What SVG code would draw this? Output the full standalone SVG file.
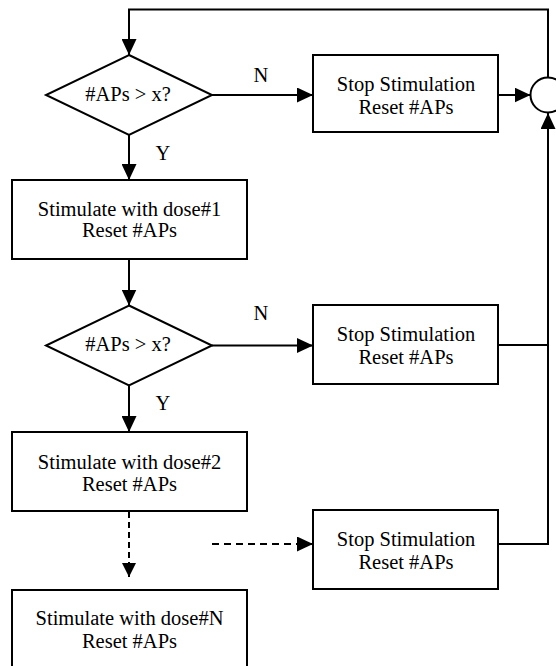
<svg xmlns="http://www.w3.org/2000/svg" width="556" height="666" viewBox="0 0 556 666">
<defs>
<style>
.box{fill:#fff;stroke:#000;stroke-width:2}
.ln{fill:none;stroke:#000;stroke-width:2}
.dash{fill:none;stroke:#000;stroke-width:2;stroke-dasharray:7,5}
text{font-family:'Liberation Serif','Times New Roman',serif;font-size:20.5px;fill:#000;text-anchor:middle}
</style>
<marker id="ah" markerUnits="userSpaceOnUse" markerWidth="16" markerHeight="15" refX="16" refY="7.5" orient="auto">
<path d="M0,0 L16,7.5 L0,15 Z" fill="#000"/>
</marker>
<marker id="ahs" markerUnits="userSpaceOnUse" markerWidth="14" markerHeight="14" refX="14" refY="7" orient="auto">
<path d="M0,0 L14,7 L0,14 Z" fill="#000"/>
</marker>
</defs>
<rect width="556" height="666" fill="#fff"/>
<g id="connectors">
<path class="ln" d="M548,77 V9.5 H129 V55" marker-end="url(#ah)"/>
<path class="ln" d="M212,95 H313" marker-end="url(#ah)"/>
<path class="ln" d="M498,95 H530.5" marker-end="url(#ah)"/>
<path class="ln" d="M129,135 V180" marker-end="url(#ah)"/>
<path class="ln" d="M129,259 V305.5" marker-end="url(#ah)"/>
<path class="ln" d="M212,345.5 H313" marker-end="url(#ah)"/>
<path class="ln" d="M129,385.5 V432" marker-end="url(#ah)"/>
<path class="ln" d="M498,345 H548"/>
<path class="ln" d="M498,544 H548 V113" marker-end="url(#ah)"/>
<path class="dash" d="M129,512 V577" style="stroke-dasharray:6,4" marker-end="url(#ahs)"/>
<path class="dash" d="M212,544 H313" marker-end="url(#ah)"/>
<text x="261" y="82">N</text>
<text x="163" y="160">Y</text>
<text x="261" y="320">N</text>
<text x="163" y="410">Y</text>
</g>
<g id="decision1">
<path class="box" d="M129,55 L212,95 L129,135 L46,95 Z"/>
<text x="128" y="101">#APs &gt; x?</text>
</g>
<g id="stop1">
<rect class="box" x="313" y="55" width="185" height="77"/>
<text x="406" y="91">Stop Stimulation</text>
<text x="406" y="114">Reset #APs</text>
</g>
<g id="merge">
<circle class="box" cx="548" cy="95" r="17.5"/>
</g>
<g id="dose1">
<rect class="box" x="12" y="180" width="235" height="79"/>
<text x="129.5" y="216">Stimulate with dose#1</text>
<text x="129.5" y="237">Reset #APs</text>
</g>
<g id="decision2">
<path class="box" d="M129,305.5 L212,345.5 L129,385.5 L46,345.5 Z"/>
<text x="128" y="351">#APs &gt; x?</text>
</g>
<g id="stop2">
<rect class="box" x="313" y="305" width="185" height="79"/>
<text x="406" y="341">Stop Stimulation</text>
<text x="406" y="364">Reset #APs</text>
</g>
<g id="dose2">
<rect class="box" x="12" y="432" width="235" height="79"/>
<text x="129.5" y="469">Stimulate with dose#2</text>
<text x="129.5" y="491">Reset #APs</text>
</g>
<g id="stop3">
<rect class="box" x="313" y="510" width="185" height="79"/>
<text x="406" y="546">Stop Stimulation</text>
<text x="406" y="569">Reset #APs</text>
</g>
<g id="doseN">
<rect class="box" x="12" y="590" width="235" height="90"/>
<text x="129.5" y="625">Stimulate with dose#N</text>
<text x="129.5" y="648">Reset #APs</text>
</g>
</svg>
